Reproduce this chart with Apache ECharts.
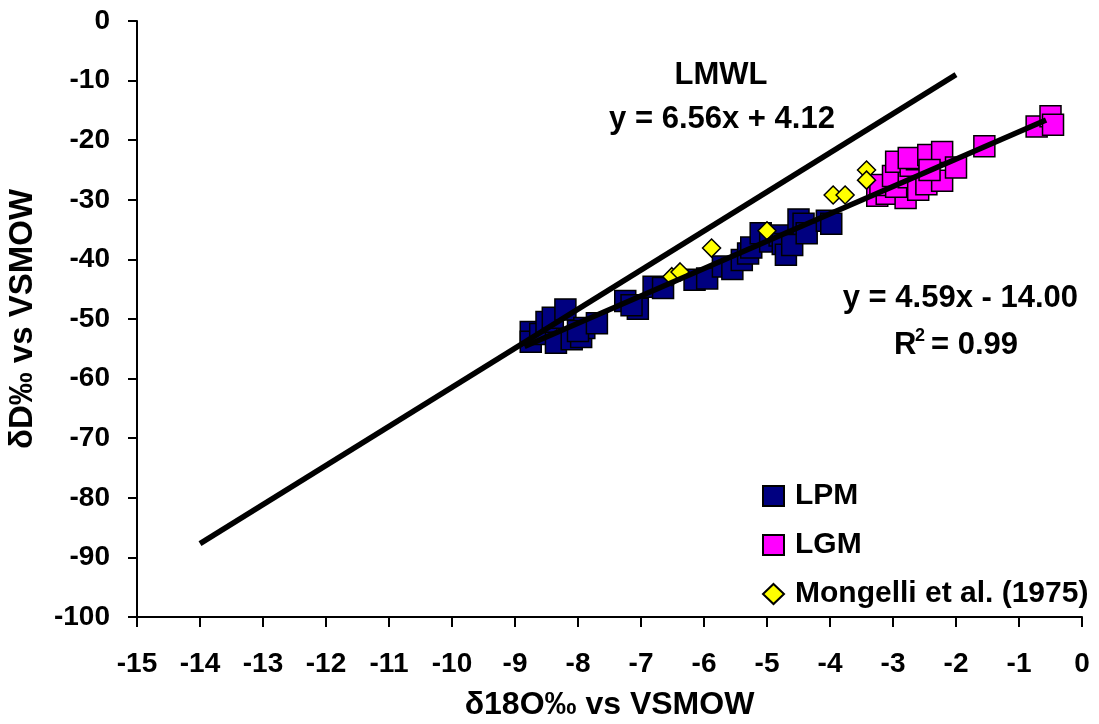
<!DOCTYPE html>
<html>
<head>
<meta charset="utf-8">
<script src="https://cdn.jsdelivr.net/npm/echarts@6/dist/echarts.min.js"></script>
<style>
html,body{margin:0;padding:0;background:#fff;}
#c{width:1099px;height:724px;}
</style>
</head>
<body>
<div id="c"></div>
<script>
// ---- data ----
const xTicks = [-15,-14,-13,-12,-11,-10,-9,-8,-7,-6,-5,-4,-3,-2,-1,0];
const yTicks = [-100,-90,-80,-70,-60,-50,-40,-30,-20,-10,0];

const lpmX = [-8.75,-8.75,-8.6,-8.5,-8.4,-8.2,-8.35,-8.1,-7.95,-7.9,-8.0,-7.7,-7.25,-7.05,-7.15,-6.8,-6.65,-6.15,-5.95,-5.7,-5.55,-5.4,-5.3,-5.25,-5.1,-4.95,-4.8,-4.75,-4.7,-4.6,-4.5,-4.42,-4.37,-4.05,-3.98];
const lpmY = [-52.2,-53.8,-52.5,-50.5,-49.8,-48.4,-54.0,-53.4,-53.0,-51.5,-52.0,-50.7,-47.0,-48.3,-47.7,-44.6,-44.8,-43.4,-43.2,-41.2,-41.6,-40.1,-39.0,-38.0,-35.6,-37.0,-36.0,-37.4,-39.2,-37.6,-33.3,-34.0,-35.6,-33.5,-34.0];

const lgmX = [-3.25,-3.1,-2.8,-3.2,-2.95,-3.0,-2.75,-2.6,-2.47,-2.22,-2.95,-2.72,-2.62,-2.75,-2.44,-2.22,-2.42,-2.0,-1.55,-0.72,-0.5,-0.46];
const lgmY = [-29.3,-29.0,-29.7,-27.5,-27.8,-26.0,-26.2,-28.3,-27.4,-26.8,-23.6,-24.3,-23.2,-23.0,-22.5,-22.0,-25.0,-24.6,-21.0,-17.7,-16.0,-17.4];

const monX = [-6.51,-6.38,-5.88,-5.0,-3.95,-3.76,-3.42,-3.42];
const monY = [-42.9,-42.1,-38.1,-35.2,-29.2,-29.2,-25.0,-26.7];

const lmwlX = [-14.0,-2.0];
const lmwlY = [-87.7,-9.0];
const regX = [-8.85,-0.57];
const regY = [-54.6,-16.6];

const FONT = 'Liberation Sans, Arial, sans-serif';
function pairs(xs, ys){ return xs.map((x,i)=>[x, ys[i]]); }

const chart = echarts.init(document.getElementById('c'), null, {renderer:'canvas'});
chart.setOption({
  animation:false,
  backgroundColor:'#fff',
  grid:{left:137, right:17, top:21, bottom:107, containLabel:false, outerBoundsMode:'none'},
  xAxis:{
    type:'value', min:-15, max:0, interval:1,
    name:'δ18O‰ vs VSMOW', nameLocation:'middle', nameGap:72,
    nameTextStyle:{fontFamily:FONT, fontWeight:'bold', fontSize:32, color:'#000'},
    axisLine:{onZero:false, lineStyle:{color:'#000', width:2}},
    axisTick:{show:true, length:10, lineStyle:{color:'#000', width:2}},
    axisLabel:{margin:33, fontFamily:FONT, fontWeight:'bold', fontSize:28, color:'#000',
      formatter:v=>String(v)},
    splitLine:{show:false}
  },
  yAxis:{
    type:'value', min:-100, max:0, interval:10,
    name:'δD‰ vs VSMOW', nameLocation:'middle', nameGap:98, nameRotate:90,
    nameTextStyle:{fontFamily:FONT, fontWeight:'bold', fontSize:33, color:'#000'},
    axisLine:{onZero:false, lineStyle:{color:'#000', width:2}},
    axisTick:{show:true, length:9, lineStyle:{color:'#000', width:2}},
    axisLabel:{margin:27, fontFamily:FONT, fontWeight:'bold', fontSize:28, color:'#000'},
    splitLine:{show:false}
  },
  legend:{
    orient:'vertical', left:757, top:476, itemWidth:21, itemHeight:20, itemGap:19,
    textStyle:{fontFamily:FONT, fontWeight:'bold', fontSize:30, color:'#000', padding:[0,0,0,6]},
    data:[
      {name:'LPM', icon:'rect'},
      {name:'LGM', icon:'rect'},
      {name:'Mongelli et al. (1975)', icon:'diamond'}
    ]
  },
  series:[
    {name:'LPM', type:'scatter', symbol:'rect', symbolSize:21, z:2,
     itemStyle:{color:'#000080', borderColor:'#000', borderWidth:1.5, opacity:1},
     data:pairs(lpmX,lpmY)},
    {name:'LGM', type:'scatter', symbol:'rect', symbolSize:21, z:2,
     itemStyle:{color:'#FF00FF', borderColor:'#000', borderWidth:1.5, opacity:1},
     data:pairs(lgmX,lgmY)},
    {name:'Mongelli et al. (1975)', type:'scatter', symbol:'diamond', symbolSize:18, z:3,
     itemStyle:{color:'#FFFF00', borderColor:'#000', borderWidth:1.5, opacity:1},
     data:pairs(monX,monY)},
    {name:'LMWL', type:'line', showSymbol:false, symbol:'none', z:4,
     lineStyle:{color:'#000', width:5.5}, data:pairs(lmwlX,lmwlY)},
    {name:'Regression', type:'line', showSymbol:false, symbol:'none', z:4,
     lineStyle:{color:'#000', width:5.5}, data:pairs(regX,regY)}
  ],
  graphic:[
    {type:'text', z:10, style:{text:'LMWL', x:721, y:75, textAlign:'center', textVerticalAlign:'middle',
      font:'bold 31px '+FONT, fill:'#000'}},
    {type:'text', z:10, style:{text:'y = 6.56x + 4.12', x:722, y:119, textAlign:'center', textVerticalAlign:'middle',
      font:'bold 31px '+FONT, fill:'#000'}},
    {type:'text', z:10, style:{text:'y = 4.59x - 14.00', x:1078, y:298, textAlign:'right', textVerticalAlign:'middle',
      font:'bold 31px '+FONT, fill:'#000'}},
    {type:'text', z:10, style:{text:'R', x:894, y:345, textAlign:'left', textVerticalAlign:'middle',
      font:'bold 31px '+FONT, fill:'#000'}},
    {type:'text', z:10, style:{text:'2', x:915, y:336, textAlign:'left', textVerticalAlign:'middle',
      font:'bold 18px '+FONT, fill:'#000'}},
    {type:'text', z:10, style:{text:'= 0.99', x:931, y:345, textAlign:'left', textVerticalAlign:'middle',
      font:'bold 31px '+FONT, fill:'#000'}}
  ]
});
</script>
</body>
</html>
